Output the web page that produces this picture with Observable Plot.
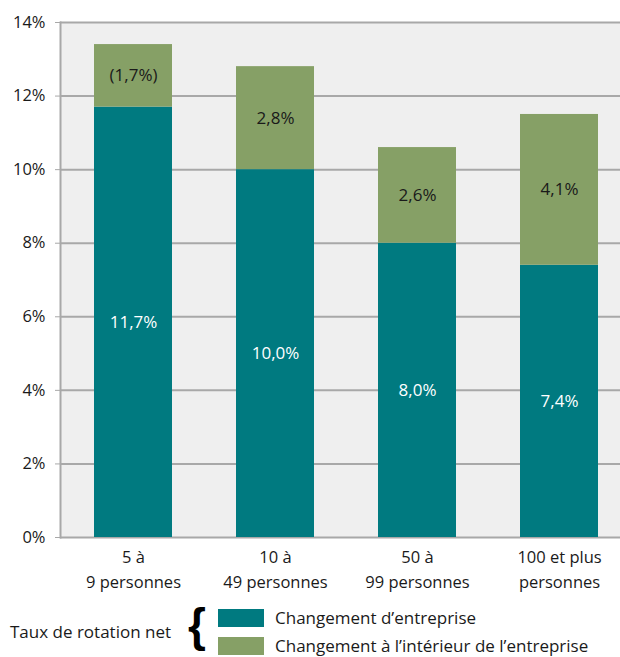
<!DOCTYPE html>
<html><head><meta charset="utf-8">
<script src="https://cdn.jsdelivr.net/npm/d3@7"></script>
<script src="https://cdn.jsdelivr.net/npm/@observablehq/plot@0.6"></script>
<style>
body{margin:0;background:#fff;font-family:"Open Sans",sans-serif;color:#1a1a1a}
#legend{position:relative;width:620px;height:57px}
#legend .lab{position:absolute;font-size:17px;line-height:20px;white-space:nowrap}
#legend .sw{position:absolute;width:46px;height:18px}
#legend .brace{position:absolute;left:188px;top:-2px;font-size:46px;line-height:54px;font-family:"Liberation Sans",sans-serif;font-weight:bold;color:#000}
</style>
</head><body><div id="chart"></div><div id="legend"></div>
<script>
const categories = ["5 à\n9 personnes","10 à\n49 personnes","50 à\n99 personnes","100 et plus\npersonnes"];
const series = ["Changement d’entreprise","Changement à l’intérieur de l’entreprise"];
const colors = ["#007a80","#86a066"];
const externe = [11.7,10.0,8.0,7.4];
const interne = [1.7,2.8,2.6,4.1];
const externeLabels = ["11,7%","10,0%","8,0%","7,4%"];
const interneLabels = ["(1,7%)","2,8%","2,6%","4,1%"];
const yTicks = [0,2,4,6,8,10,12,14];
const legendTitle = "Taux de rotation net";

const rows = [];
categories.forEach((c,i)=>{
  rows.push({cat:c, serie:series[0], value:externe[i], mid:externe[i]/2, label:externeLabels[i]});
  rows.push({cat:c, serie:series[1], value:interne[i], mid:externe[i]+interne[i]/2, label:interneLabels[i]});
});

const chart = Plot.plot({
  width:620, height:600,
  marginTop:22, marginBottom:63, marginLeft:60, marginRight:0,
  style:{fontFamily:'"Open Sans",sans-serif', fontSize:"16px", color:"#1a1a1a", background:"#fff"},
  x:{domain:categories, paddingInner:0.452, paddingOuter:0.194, align:0.61, label:null},
  y:{domain:[0,14], label:null},
  color:{domain:series, range:colors},
  marks:[
    Plot.frame({fill:"#efefef", stroke:null}),
    Plot.ruleY(yTicks, {stroke:"#a8a8a8", strokeWidth:2}),
    Plot.barY(rows, {x:"cat", y:"value", fill:"serie"}),
    Plot.text(rows.filter(d=>d.serie===series[0]), {x:"cat", y:"mid", text:"label", fill:"#ffffff", fontSize:17}),
    Plot.text(rows.filter(d=>d.serie===series[1]), {x:"cat", y:"mid", text:"label", fill:"#1a1a1a", fontSize:17}),
    Plot.axisY({ticks:yTicks, tickFormat:d=>d+"%", tickSize:5, tickPadding:10, stroke:"#a8a8a8", fontSize:16.5}),
    Plot.frame({anchor:"left", stroke:"#a8a8a8", strokeWidth:2}),
    Plot.axisX({tickSize:0, tickPadding:8, lineHeight:1.5, fontSize:16.5})
  ]
});
document.getElementById("chart").appendChild(chart);

const lg = document.getElementById("legend");
lg.innerHTML = `<div class="lab" style="left:10px;top:22px">${legendTitle}</div>
<div class="brace">{</div>
<div class="sw" style="left:218px;top:9px;background:${colors[0]}"></div>
<div class="lab" style="left:275px;top:8px">${series[0]}</div>
<div class="sw" style="left:218px;top:37px;background:${colors[1]}"></div>
<div class="lab" style="left:275px;top:36px">${series[1]}</div>`;
</script>
</body></html>
